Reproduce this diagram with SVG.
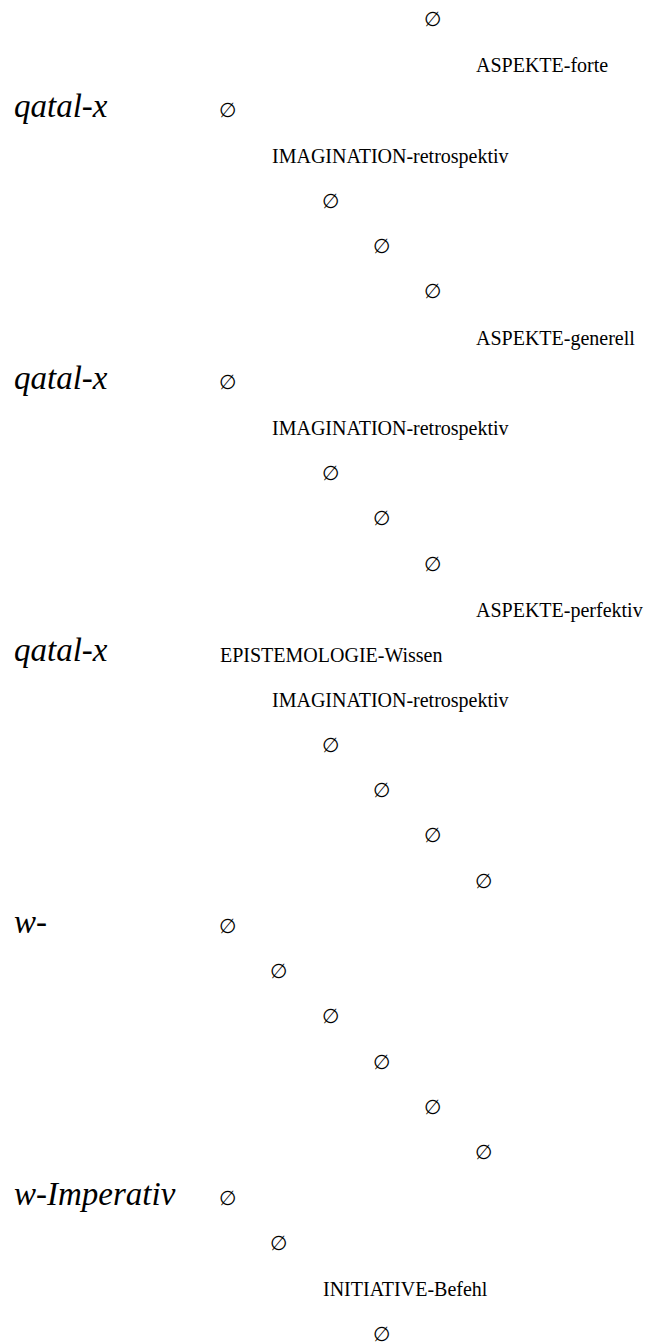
<svg xmlns="http://www.w3.org/2000/svg" width="645" height="1344" viewBox="0 0 645 1344">
<style>
text{font-family:'Liberation Serif','Times New Roman','DejaVu Serif',serif;fill:#000}
.e{font-size:20px;text-anchor:middle}
.t{font-size:20px}
.h{font-size:33px;font-style:italic}
</style>
<rect width="645" height="1344" fill="#fff"/>
<g id="connectors"></g>
<g font-family="Liberation Serif, serif">
<g id="n0"><text class="e" x="432" y="26">∅</text></g>
<g id="n1"><text class="t" x="476" y="72">ASPEKTE-forte</text></g>
<g id="n2"><text class="h" x="14" y="117">qatal-x</text><text class="e" x="227" y="117">∅</text></g>
<g id="n3"><text class="t" x="272" y="163">IMAGINATION-retrospektiv</text></g>
<g id="n4"><text class="e" x="330" y="208">∅</text></g>
<g id="n5"><text class="e" x="381" y="253">∅</text></g>
<g id="n6"><text class="e" x="432" y="298">∅</text></g>
<g id="n7"><text class="t" x="476" y="345">ASPEKTE-generell</text></g>
<g id="n8"><text class="h" x="14" y="389">qatal-x</text><text class="e" x="227" y="389">∅</text></g>
<g id="n9"><text class="t" x="272" y="435">IMAGINATION-retrospektiv</text></g>
<g id="n10"><text class="e" x="330" y="480">∅</text></g>
<g id="n11"><text class="e" x="381" y="525">∅</text></g>
<g id="n12"><text class="e" x="432" y="571">∅</text></g>
<g id="n13"><text class="t" x="476" y="617">ASPEKTE-perfektiv</text></g>
<g id="n14"><text class="h" x="14" y="661">qatal-x</text><text class="t" x="220" y="662">EPISTEMOLOGIE-Wissen</text></g>
<g id="n15"><text class="t" x="272" y="707">IMAGINATION-retrospektiv</text></g>
<g id="n16"><text class="e" x="330" y="752">∅</text></g>
<g id="n17"><text class="e" x="381" y="797">∅</text></g>
<g id="n18"><text class="e" x="432" y="842">∅</text></g>
<g id="n19"><text class="e" x="483" y="888">∅</text></g>
<g id="n20"><text class="h" x="14" y="933">w-</text><text class="e" x="227" y="933">∅</text></g>
<g id="n21"><text class="e" x="278" y="978">∅</text></g>
<g id="n22"><text class="e" x="330" y="1023">∅</text></g>
<g id="n23"><text class="e" x="381" y="1069">∅</text></g>
<g id="n24"><text class="e" x="432" y="1114">∅</text></g>
<g id="n25"><text class="e" x="483" y="1159">∅</text></g>
<g id="n26"><text class="h" x="14" y="1205">w-Imperativ</text><text class="e" x="227" y="1205">∅</text></g>
<g id="n27"><text class="e" x="278" y="1250">∅</text></g>
<g id="n28"><text class="t" x="323" y="1296">INITIATIVE-Befehl</text></g>
<g id="n29"><text class="e" x="381" y="1341">∅</text></g>
</g>
</svg>
